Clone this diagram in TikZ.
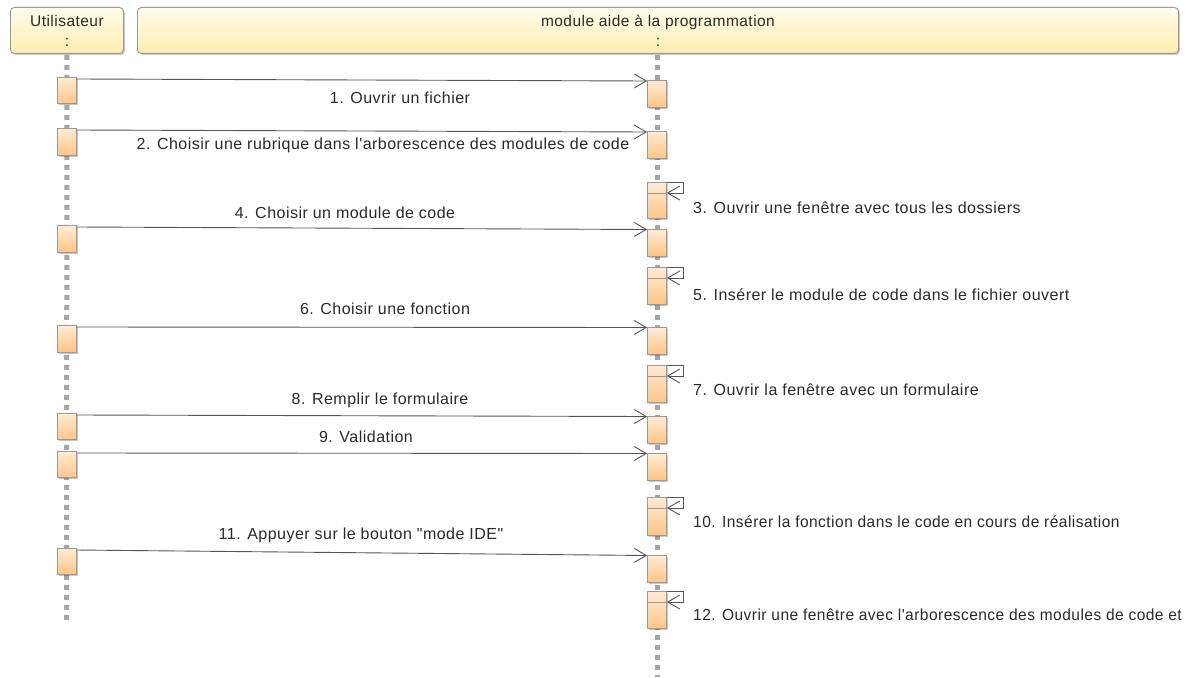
\documentclass[tikz,border=0pt]{standalone}
\usepackage{graphicx}
\usepackage{fontspec}
\setmainfont[LetterSpace=3,Ligatures=TeXOff]{Liberation Sans}
\usetikzlibrary{arrows.meta,shadows}
\definecolor{headtop}{HTML}{FFFCEC}
\definecolor{headbot}{HTML}{FFEDB0}
\definecolor{acttop}{HTML}{FFEBD4}
\definecolor{actbot}{HTML}{FFC587}
\definecolor{boxc}{HTML}{9A9A9A}
\definecolor{lifec}{HTML}{A6A6A6}
\definecolor{msgc}{HTML}{555555}
\definecolor{txtc}{HTML}{2A2A2A}
\tikzset{
  shdw/.style={drop shadow={shadow xshift=1.5pt,shadow yshift=-1.5pt,opacity=0.22,fill=black}},
  head/.style={draw=boxc,line width=0.9pt,rounded corners=4pt,top color=headtop,bottom color=headbot,
    anchor=north west,minimum height=46pt,inner sep=0pt,align=center,text=txtc,
    font=\fontsize{15.5}{20}\selectfont,shdw},
  act/.style={draw=boxc,line width=0.8pt,top color=acttop,bottom color=actbot,minimum width=19pt,
    anchor=north,inner sep=0pt,shdw},
  life/.style={draw=lifec,line width=5pt,dash pattern=on 5pt off 5pt},
  msg/.style={draw=msgc,line width=0.9pt,-{Straight Barb[length=12pt,width=14pt]}},
  split/.style={draw=boxc,line width=0.8pt},
  lab/.style={text=txtc,font=\fontsize{16}{18}\selectfont,inner sep=0pt},
  llab/.style={lab,anchor=west}
}
\begin{document}
\begin{tikzpicture}[x=1pt,y=-1pt]
\fill[white] (0,0) rectangle (1190,677);
\useasboundingbox (0,0) rectangle (1190,677);
% headers
\node[head,minimum width=113pt] (uh) at (10,7) {Utilisateur\\:};
\node[head,minimum width=1041pt] (mh) at (137,7) {module aide à la programmation\\:};
% lifelines
\coordinate (uend) at (66.5,620);
\coordinate (mend) at (657,677);
\draw[life] ([yshift=-1pt]uh.south) -- (uend);
\draw[life] ([yshift=-1pt]mh.south -| mend) -- (mend);
% user activations
\node[act,minimum height=26pt] (ua1) at (66.5,77) {};
\node[act,minimum height=27pt] (ua2) at (66.5,128) {};
\node[act,minimum height=27pt] (ua4) at (66.5,225) {};
\node[act,minimum height=27pt] (ua6) at (66.5,325) {};
\node[act,minimum height=26pt] (ua8) at (66.5,413) {};
\node[act,minimum height=26pt] (ua9) at (66.5,451) {};
\node[act,minimum height=26pt] (ua11) at (66.5,548) {};
% module activations
\node[act,minimum height=27pt] (ma1) at (657,80) {};
\node[act,minimum height=27pt] (ma2) at (657,131) {};
\node[act,minimum height=36pt] (ms3) at (657,182) {};
\node[act,minimum height=27pt] (ma4) at (657,229) {};
\node[act,minimum height=37pt] (ms5) at (657,267) {};
\node[act,minimum height=27pt] (ma6) at (657,327) {};
\node[act,minimum height=37pt] (ms7) at (657,365) {};
\node[act,minimum height=27pt] (ma8) at (657,416) {};
\node[act,minimum height=27pt] (ma9) at (657,453) {};
\node[act,minimum height=38pt] (ms10) at (657,497) {};
\node[act,minimum height=27pt] (ma11) at (657,555) {};
\node[act,minimum height=37pt] (ms12) at (657,591) {};
% split lines in self activations
\foreach \s in {ms3,ms5,ms7,ms10,ms12}{
  \draw[split] ([yshift=-11pt]\s.north west) -- ([yshift=-11pt]\s.north east);
  \draw[msg] (\s.north east) -- ++(17,0) -- ++(0,11) -- ([yshift=-11pt]\s.north east);
}
% messages
\draw[msg] ([yshift=-2pt]ua1.north east) -- ([yshift=-1pt]ma1.north west);
\draw[msg] ([yshift=-2pt]ua2.north east) -- ([yshift=-1pt]ma2.north west);
\draw[msg] ([yshift=-2pt]ua4.north east) -- ([yshift=-0.5pt]ma4.north west);
\draw[msg] ([yshift=-2pt]ua6.north east) -- ([yshift=-0.5pt]ma6.north west);
\draw[msg] ([yshift=-2pt]ua8.north east) -- ([yshift=-0.5pt]ma8.north west);
\draw[msg] ([yshift=-2pt]ua9.north east) -- ([yshift=-0.5pt]ma9.north west);
\draw[msg] ([yshift=-2pt]ua11.north east) -- ([yshift=-0.5pt]ma11.north west);
% labels
\node[lab] (l1) at (400,98) {1. Ouvrir un fichier};
\node[lab] (l2) at (383,145) {2. Choisir une rubrique dans l'arborescence des modules de code};
\node[llab] (l3) at (693,208) {3. Ouvrir une fenêtre avec tous les dossiers};
\node[lab] (l4) at (345,213) {4. Choisir un module de code};
\node[llab] (l5) at (693,295) {5. Insérer le module de code dans le fichier ouvert};
\node[lab] (l6) at (385,309) {6. Choisir une fonction};
\node[llab] (l7) at (693,390) {7. Ouvrir la fenêtre avec un formulaire};
\node[lab] (l8) at (380,400) {8. Remplir le formulaire};
\node[lab] (l9) at (366,437) {9. Validation};
\node[llab] (l10) at (693,522) {\scalebox{0.97}[1]{10. Insérer la fonction dans le code en cours de réalisation}};
\node[lab] (l11) at (361,535) {11. Appuyer sur le bouton "mode IDE"};
\node[llab] (l12) at (693,615) {\scalebox{0.97}[1]{12. Ouvrir une fenêtre avec l'arborescence des modules de code et}};
\end{tikzpicture}
\end{document}
